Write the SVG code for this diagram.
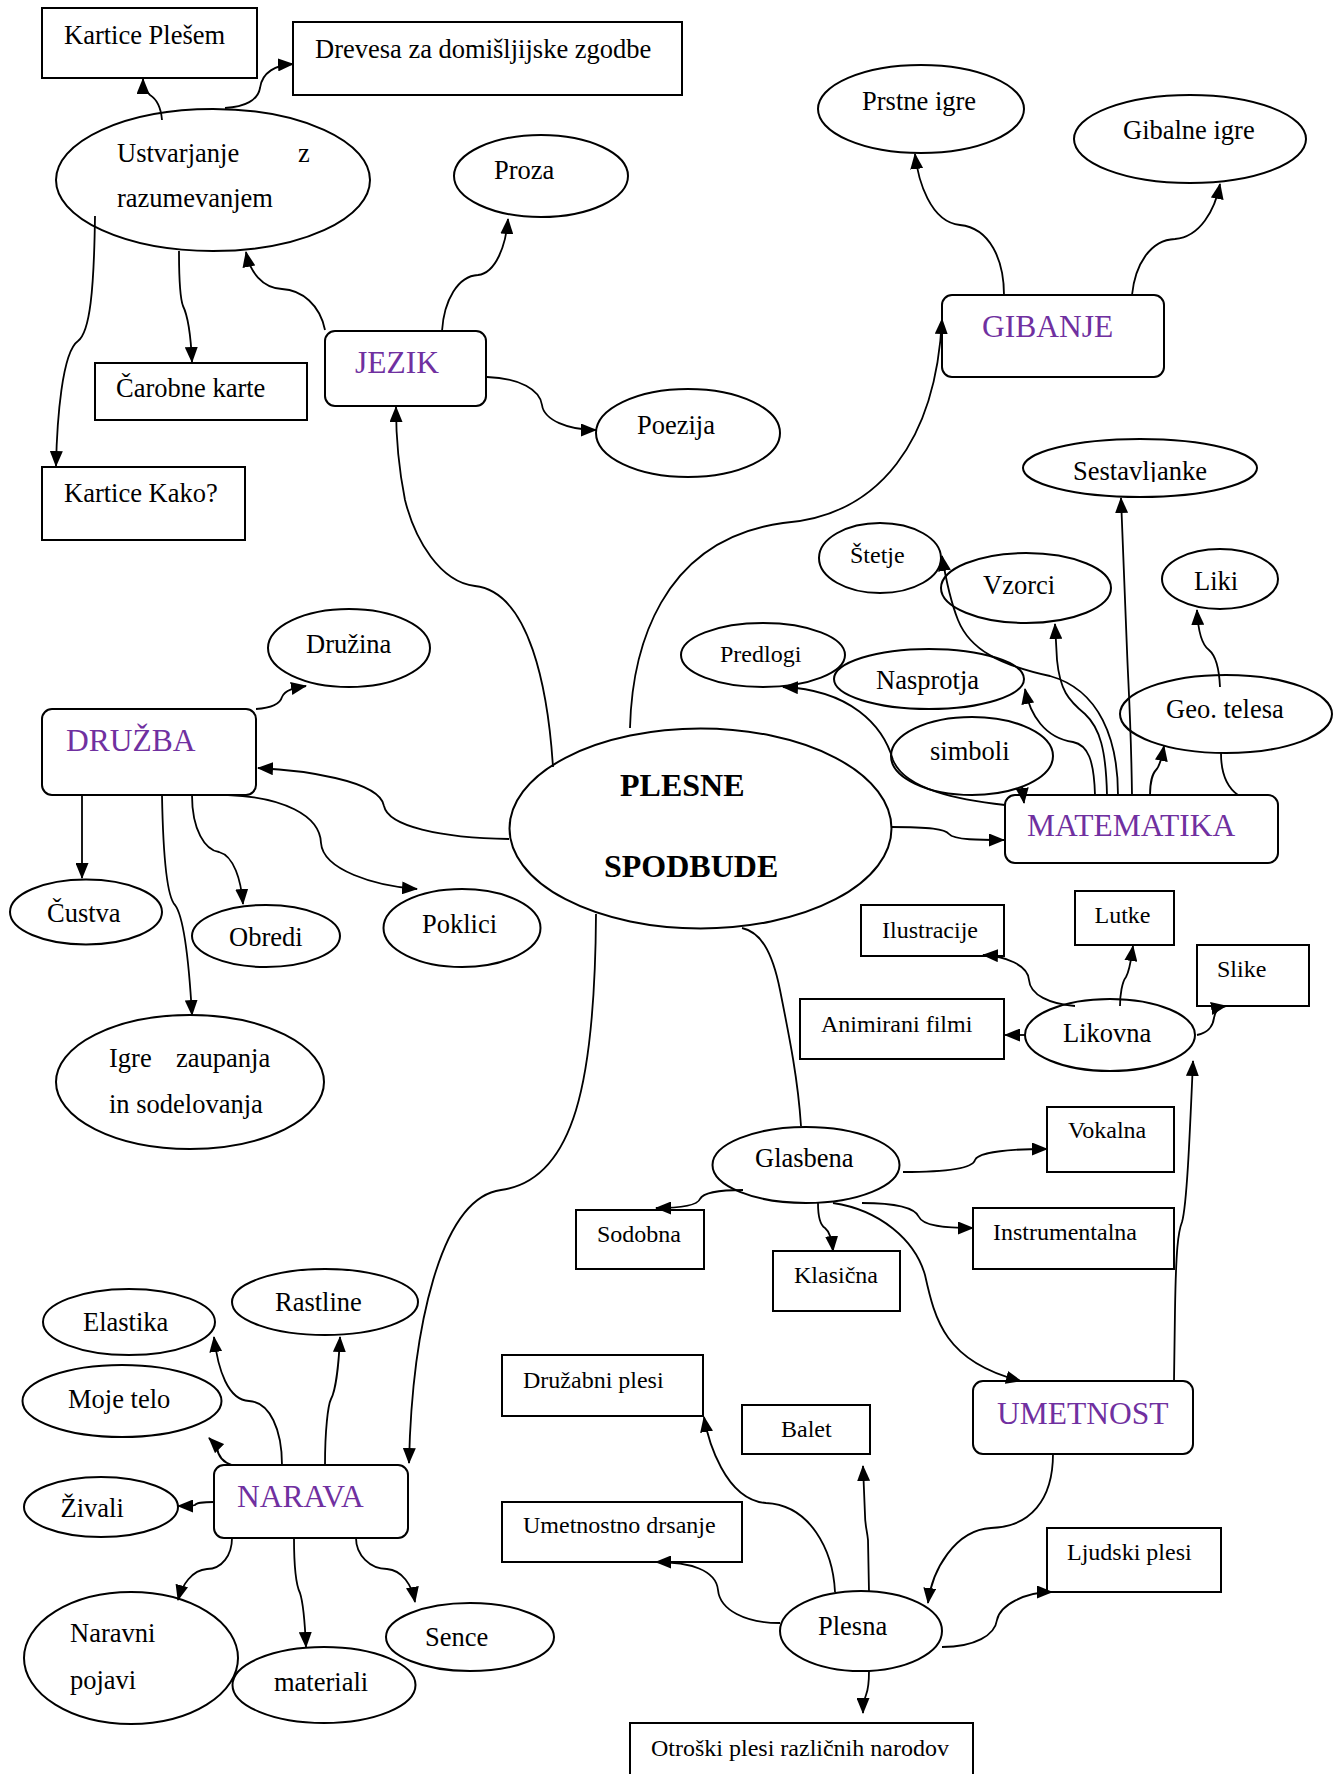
<svg xmlns="http://www.w3.org/2000/svg" width="1342" height="1774" viewBox="0 0 1342 1774">
<style>
.n{fill:#fff;stroke:#000;stroke-width:2}
.t{font-family:"Liberation Serif","Times New Roman",serif;font-size:26.5px;fill:#000}
.s{font-size:24px}
.c{font-size:31.5px;fill:#7030A0}
.b{font-weight:bold;font-size:32px}
.e{fill:none;stroke:#000;stroke-width:1.8;marker-end:url(#a)}
.l{fill:none;stroke:#000;stroke-width:1.8}
</style>
<defs>
<marker id="a" markerUnits="userSpaceOnUse" markerWidth="16" markerHeight="13" refX="15" refY="6.5" orient="auto"><path d="M0,0 L16,6.5 L0,13 z" fill="#000"/></marker>
<clipPath id="cs"><rect x="1000" y="430" width="300" height="52"/></clipPath>
</defs>
<rect width="1342" height="1774" fill="#fff"/>
<g id="nodes">
<g id="kartice-plesem"><rect class="n" x="42" y="8" width="215" height="70"/><text class="t" x="64" y="44">Kartice Plešem</text></g>
<g id="drevesa"><rect class="n" x="293" y="22" width="389" height="73"/><text class="t" x="315" y="58">Drevesa za domišljijske zgodbe</text></g>
<g id="ustvarjanje"><ellipse class="n" cx="213" cy="180" rx="157" ry="71"/><text class="t" x="117" y="162">Ustvarjanje</text><text class="t" x="298" y="162">z</text><text class="t" x="117" y="207">razumevanjem</text></g>
<g id="proza"><ellipse class="n" cx="541" cy="176" rx="87" ry="41"/><text class="t" x="494" y="179">Proza</text></g>
<g id="carobne-karte"><rect class="n" x="95" y="363" width="212" height="57"/><text class="t" x="116" y="397">Čarobne karte</text></g>
<g id="kartice-kako"><rect class="n" x="42" y="467" width="203" height="73"/><text class="t" x="64" y="502">Kartice Kako?</text></g>
<g id="jezik"><rect class="n" x="325" y="331" width="161" height="75" rx="10"/><text class="t c" x="355" y="373">JEZIK</text></g>
<g id="poezija"><ellipse class="n" cx="688" cy="433" rx="92" ry="44"/><text class="t" x="637" y="434">Poezija</text></g>
<g id="prstne-igre"><ellipse class="n" cx="921" cy="109" rx="103" ry="44"/><text class="t" x="862" y="110">Prstne igre</text></g>
<g id="gibalne-igre"><ellipse class="n" cx="1190" cy="139" rx="116" ry="44"/><text class="t" x="1123" y="139">Gibalne igre</text></g>
<g id="gibanje"><rect class="n" x="942" y="295" width="222" height="82" rx="10"/><text class="t c" x="982" y="337">GIBANJE</text></g>
<g id="sestavljanke"><ellipse class="n" cx="1140" cy="468" rx="117" ry="29"/><text class="t" x="1073" y="480" clip-path="url(#cs)">Sestavljanke</text></g>
<g id="stetje"><ellipse class="n" cx="880" cy="558" rx="61" ry="35"/><text class="t s" x="850" y="563">Štetje</text></g>
<g id="vzorci"><ellipse class="n" cx="1026" cy="588" rx="85" ry="35"/><text class="t" x="983" y="594">Vzorci</text></g>
<g id="liki"><ellipse class="n" cx="1220" cy="579" rx="58" ry="30"/><text class="t" x="1194" y="590">Liki</text></g>
<g id="predlogi"><ellipse class="n" cx="763" cy="655" rx="82" ry="32"/><text class="t s" x="720" y="662">Predlogi</text></g>
<g id="nasprotja"><ellipse class="n" cx="929" cy="679" rx="95" ry="30"/><text class="t" x="876" y="689">Nasprotja</text></g>
<g id="simboli"><ellipse class="n" cx="972" cy="756" rx="81" ry="39"/><text class="t" x="930" y="760">simboli</text></g>
<g id="geo-telesa"><ellipse class="n" cx="1226" cy="714" rx="106" ry="39"/><text class="t" x="1166" y="718">Geo. telesa</text></g>
<g id="matematika"><rect class="n" x="1005" y="795" width="273" height="68" rx="10"/><text class="t c" x="1027" y="836">MATEMATIKA</text></g>
<g id="plesne-spodbude"><ellipse class="n" cx="700.5" cy="828.5" rx="191" ry="100"/><text class="t b" x="620" y="796">PLESNE</text><text class="t b" x="604" y="877">SPODBUDE</text></g>
<g id="druzina"><ellipse class="n" cx="349" cy="648" rx="81" ry="39"/><text class="t" x="306" y="653">Družina</text></g>
<g id="druzba"><rect class="n" x="42" y="709" width="214" height="86" rx="10"/><text class="t c" x="66" y="751">DRUŽBA</text></g>
<g id="custva"><ellipse class="n" cx="86" cy="912" rx="76" ry="32.5"/><text class="t" x="47" y="922">Čustva</text></g>
<g id="obredi"><ellipse class="n" cx="266" cy="936" rx="74" ry="31"/><text class="t" x="229" y="946">Obredi</text></g>
<g id="poklici"><ellipse class="n" cx="462" cy="928" rx="78.5" ry="39"/><text class="t" x="422" y="933">Poklici</text></g>
<g id="igre"><ellipse class="n" cx="190" cy="1082" rx="134" ry="67"/><text class="t" x="109" y="1067">Igre</text><text class="t" x="176" y="1067">zaupanja</text><text class="t" x="109" y="1113">in sodelovanja</text></g>
<g id="ilustracije"><rect class="n" x="861" y="905" width="143" height="51"/><text class="t s" x="882" y="938">Ilustracije</text></g>
<g id="lutke"><rect class="n" x="1075" y="891" width="99" height="54"/><text class="t s" x="1094.5" y="923">Lutke</text></g>
<g id="slike"><rect class="n" x="1197" y="945" width="112" height="61"/><text class="t s" x="1217" y="977">Slike</text></g>
<g id="animirani-filmi"><rect class="n" x="800" y="999" width="204" height="60"/><text class="t s" x="821" y="1032">Animirani filmi</text></g>
<g id="likovna"><ellipse class="n" cx="1110" cy="1035" rx="85" ry="36"/><text class="t" x="1063" y="1042">Likovna</text></g>
<g id="vokalna"><rect class="n" x="1047" y="1107" width="127" height="65"/><text class="t s" x="1068" y="1138">Vokalna</text></g>
<g id="glasbena"><ellipse class="n" cx="806" cy="1165" rx="93.5" ry="38"/><text class="t" x="755" y="1167">Glasbena</text></g>
<g id="sodobna"><rect class="n" x="576" y="1210" width="128" height="59"/><text class="t s" x="597" y="1242">Sodobna</text></g>
<g id="klasicna"><rect class="n" x="773" y="1251" width="127" height="60"/><text class="t s" x="794" y="1283">Klasična</text></g>
<g id="instrumentalna"><rect class="n" x="973" y="1208" width="201" height="61"/><text class="t s" x="993" y="1240">Instrumentalna</text></g>
<g id="druzabni-plesi"><rect class="n" x="502" y="1355" width="201" height="61"/><text class="t s" x="523" y="1388">Družabni plesi</text></g>
<g id="balet"><rect class="n" x="742" y="1405" width="128" height="49"/><text class="t s" x="781" y="1437">Balet</text></g>
<g id="umetnost"><rect class="n" x="973" y="1381" width="220" height="73" rx="10"/><text class="t c" x="997" y="1424">UMETNOST</text></g>
<g id="umetnostno-drsanje"><rect class="n" x="502" y="1502" width="240" height="60"/><text class="t s" x="523" y="1533">Umetnostno drsanje</text></g>
<g id="ljudski-plesi"><rect class="n" x="1047" y="1528" width="174" height="64"/><text class="t s" x="1067" y="1560">Ljudski plesi</text></g>
<g id="plesna"><ellipse class="n" cx="861" cy="1631" rx="81" ry="40"/><text class="t" x="818" y="1635">Plesna</text></g>
<g id="otroski-plesi"><rect class="n" x="630" y="1723" width="343" height="60"/><text class="t s" x="651" y="1756">Otroški plesi različnih narodov</text></g>
<g id="rastline"><ellipse class="n" cx="325" cy="1302" rx="93" ry="33"/><text class="t" x="275" y="1311">Rastline</text></g>
<g id="elastika"><ellipse class="n" cx="129" cy="1322" rx="86" ry="33"/><text class="t" x="83" y="1331">Elastika</text></g>
<g id="moje-telo"><ellipse class="n" cx="122" cy="1401" rx="99.5" ry="36"/><text class="t" x="68" y="1408">Moje telo</text></g>
<g id="zivali"><ellipse class="n" cx="101" cy="1507" rx="77" ry="30"/><text class="t" x="60.5" y="1517">Živali</text></g>
<g id="narava"><rect class="n" x="214" y="1465" width="194" height="73" rx="10"/><text class="t c" x="237" y="1507">NARAVA</text></g>
<g id="naravni-pojavi"><ellipse class="n" cx="131" cy="1658" rx="107" ry="66"/><text class="t" x="70" y="1642">Naravni</text><text class="t" x="70" y="1689">pojavi</text></g>
<g id="materiali"><ellipse class="n" cx="324" cy="1685" rx="91.5" ry="38"/><text class="t" x="274" y="1691">materiali</text></g>
<g id="sence"><ellipse class="n" cx="470" cy="1637" rx="84" ry="34"/><text class="t" x="425" y="1646">Sence</text></g>
</g>
<g id="connectors">
<path class="e" d="M162,120 C161,108 158,100 150,95 C145,91 143,86 143,79"/>
<path class="e" d="M225,108 C245,107 258,100 260,88 C262,72 276,65 293,64"/>
<path class="e" d="M179,251 C179,285 180,298 183,306 C189,318 191,340 192,362"/>
<path class="e" d="M95,216 C94,290 90,332 78,341 C62,352 57,420 56,466"/>
<path class="e" d="M325,330 C320,305 302,290 282,289 C262,288 250,272 246,252"/>
<path class="e" d="M442,331 C444,300 458,276 478,275 C496,273 506,245 508,219"/>
<path class="e" d="M487,377 C520,378 540,390 542,405 C544,420 568,430 596,430"/>
<path class="e" d="M553,767 C548,690 530,592 475,586 C440,582 415,540 405,500 C399,470 396,440 396,407"/>
<path class="e" d="M630,728 C632,650 660,540 783,523 C880,516 936,440 942,319"/>
<path class="e" d="M1004,295 C1004,260 990,228 960,225 C930,222 918,180 915,154"/>
<path class="e" d="M1132,295 C1135,265 1150,240 1175,239 C1200,237 1215,210 1220,184"/>
<path class="e" d="M509,839 C440,838 388,826 384,806 C380,780 300,770 258,768"/>
<path class="e" d="M256,709 C272,708 280,704 282,697 C285,690 294,688 306,686"/>
<path class="e" d="M82,795 L82,878"/>
<path class="e" d="M162,795 C163,850 166,896 175,905 C185,918 190,980 192,1015"/>
<path class="e" d="M192,795 C192,830 205,850 219,852 C234,856 241,880 243,904"/>
<path class="e" d="M228,795 C282,797 320,815 321,843 C323,870 375,886 417,889"/>
<path class="e" d="M596,914 C595,1080 575,1180 501,1190 C440,1198 412,1330 409,1463"/>
<path class="e" d="M325,1465 C325,1430 328,1405 331,1399 C336,1390 339,1360 340,1337"/>
<path class="e" d="M282,1465 C282,1430 270,1402 249,1401 C228,1400 218,1370 214,1337"/>
<path class="e" d="M232,1465 C222,1462 218,1455 217,1448 C215,1444 212,1441 209,1438"/>
<path class="e" d="M214,1502 C200,1502 196,1503 195,1505 C193,1506 186,1506 178,1506"/>
<path class="e" d="M232,1538 C232,1555 222,1569 207,1569 C192,1570 182,1585 178,1600"/>
<path class="e" d="M294,1538 C294,1570 296,1585 300,1593 C304,1605 305,1625 306,1647"/>
<path class="e" d="M356,1538 C356,1555 370,1569 387,1569 C402,1570 412,1585 415,1602"/>
<path class="e" d="M891,827 C930,827 945,829 949,834 C954,840 980,840 1004,840"/>
<path class="e" d="M1132,795 C1131,720 1128,680 1127,650 L1121,498"/>
<path class="e" d="M1118,795 C1118,740 1100,690 1050,676 C1000,665 970,650 958,620 C950,600 946,580 942,556"/>
<path class="e" d="M1107,795 C1106,750 1100,728 1085,714 C1068,700 1060,690 1057,660 L1055,624"/>
<path class="e" d="M1095,795 C1094,760 1088,745 1073,742 C1045,738 1030,715 1025,689"/>
<path class="e" d="M1005,805 C960,800 905,790 893,760 C883,725 850,690 783,687"/>
<path class="e" d="M1022,786 L1024,803"/>
<path class="e" d="M1150,795 C1150,782 1153,773 1156,770 C1160,766 1162,757 1164,746"/>
<path class="l" d="M1238,795 C1228,788 1221,775 1221,753"/>
<path class="e" d="M1220,687 C1219,665 1215,655 1209,650 C1202,645 1198,630 1197,610"/>
<path class="l" d="M742,928 C760,932 772,950 780,990 C790,1040 798,1080 801,1126"/>
<path class="e" d="M1075,1006 C1050,1004 1030,995 1029,980 C1028,965 1005,956 983,955"/>
<path class="e" d="M1120,1006 C1120,995 1122,982 1126,977 C1130,970 1131,960 1133,946"/>
<path class="e" d="M1025,1035 L1005,1035"/>
<path class="e" d="M1197,1035 C1210,1032 1213,1025 1214,1018 C1215,1010 1220,1007 1226,1006"/>
<path class="e" d="M1174,1381 L1175,1310 C1176,1250 1178,1232 1182,1222 C1187,1205 1190,1130 1193,1061"/>
<path class="e" d="M903,1172 C950,1172 973,1168 975,1160 C978,1152 1010,1149 1047,1149"/>
<path class="e" d="M743,1190 C720,1190 703,1193 700,1199 C697,1206 680,1208 656,1208"/>
<path class="e" d="M818,1203 C818,1215 820,1225 825,1228 C830,1232 832,1240 833,1251"/>
<path class="e" d="M862,1203 C895,1203 915,1208 919,1217 C923,1226 945,1228 973,1228"/>
<path class="e" d="M833,1203 C880,1210 915,1240 925,1275 C935,1320 945,1362 1021,1381"/>
<path class="e" d="M835,1592 C833,1550 810,1505 766,1503 C725,1500 708,1440 704,1417"/>
<path class="e" d="M869,1592 L868,1540 C867,1530 865,1525 865,1515 L863,1466"/>
<path class="e" d="M780,1623 C745,1623 720,1610 718,1590 C716,1570 690,1562 656,1562"/>
<path class="e" d="M1053,1454 C1053,1500 1030,1527 991,1528 C955,1530 932,1570 928,1603"/>
<path class="e" d="M942,1647 C975,1647 995,1635 997,1620 C1000,1605 1025,1592 1052,1592"/>
<path class="e" d="M869,1671 C869,1685 868,1690 866,1695 C864,1700 863,1705 863,1713"/>
</g>
</svg>
